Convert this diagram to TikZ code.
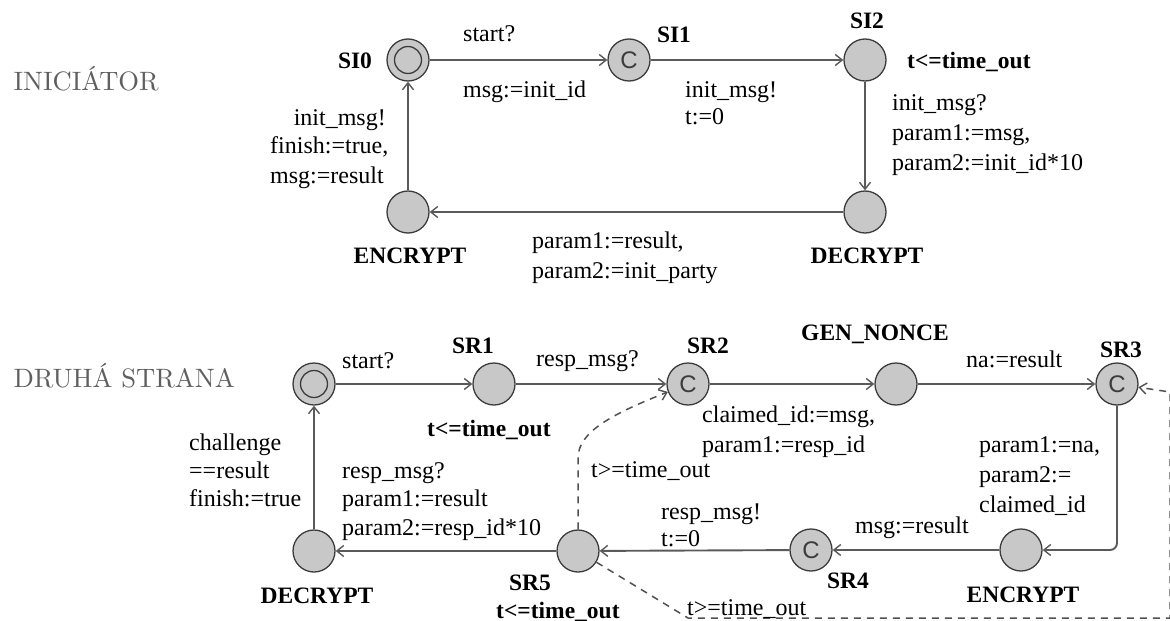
\documentclass[tikz,border=0pt]{standalone}
\usepackage{fontspec}
\newfontfamily\tf{Liberation Serif}
\newfontfamily\cf{Liberation Sans}
\usetikzlibrary{arrows.meta}
\definecolor{nodefill}{RGB}{200,200,200}
\definecolor{nodeline}{RGB}{60,60,60}
\definecolor{edgecol}{RGB}{90,90,90}
\definecolor{headgray}{RGB}{95,95,95}
\tikzset{
  loc/.style={circle, draw=nodeline, fill=nodefill, line width=1.3pt,
    minimum size=42pt, inner sep=0pt},
  initloc/.style={loc, path picture={\draw[nodeline, line width=1.3pt]
    (path picture bounding box.center) circle (13.5pt);}},
  comm/.style={loc, font=\cf\fontsize{24}{24}\selectfont, text=nodeline},
  edge/.style={draw=edgecol, line width=1.9pt,
    -{Straight Barb[length=7pt, width=11pt, line width=1.4pt]}},
  tout/.style={edge, draw=edgecol!90!black, line width=1.5pt, dash pattern=on 7pt off 6pt},
  lname/.style={font=\tf\bfseries\fontsize{23.5}{28}\selectfont, inner sep=0pt},
  txt/.style={font=\tf\fontsize{24}{29}\selectfont, inner sep=0pt},
  txtml/.style={txt, align=left, anchor=north west},
  head/.style={font=\fontsize{10}{12}\selectfont, scale=2.66, transform shape,
    text=headgray, inner sep=0pt, anchor=base west},
}
\begin{document}
\begin{tikzpicture}[x=1pt, y=-1pt]
\useasboundingbox (0,0) rectangle (1170,621);

% ---------------- initiator automaton ----------------
\node[head] (hI) at (13,90) {INICIÁTOR};

\node[initloc] (iS0) at (408,60) {};
\node[comm]    (iS1) at (629,60) {C};
\node[loc]     (iS2) at (865,60) {};
\node[loc]     (iDec) at (865,212) {};
\node[loc]     (iEnc) at (408,212) {};

\node[lname, anchor=base] (nS0) at (355,68) {SI0};
\node[lname, anchor=base] (nS1) at (674,42) {SI1};
\node[lname, anchor=base] (nS2) at (867,28) {SI2};
\node[lname, anchor=base west] (invS2) at (907,68) {t<=time\_out};
\node[lname, anchor=base] (nDec) at (867,263) {DECRYPT};
\node[lname, anchor=base] (nEnc) at (410,263) {ENCRYPT};

\draw[edge] (iS0) -- (iS1);
\draw[edge] (iS1) -- (iS2);
\draw[edge] (iS2) -- (iDec);
\draw[edge] (iDec) -- (iEnc);
\draw[edge] (iEnc) -- (iS0);

\node[txt, anchor=base west] (e1a) at (463,41) {start?};
\node[txt, anchor=base west] (e1b) at (463,97) {msg:=init\_id};
\node[txtml, font=\tf\fontsize{24}{27}\selectfont] (e2) at (685,81) {init\_msg!\\t:=0};
\node[txtml, font=\tf\fontsize{24}{30}\selectfont] (e3) at (892,94) {init\_msg?\\param1:=msg,\\param2:=init\_id*10};
\node[txtml, font=\tf\fontsize{24}{30}\selectfont] (e4) at (532,232) {param1:=result,\\param2:=init\_party};
\node[txt, anchor=base east] (e5a) at (386,125) {init\_msg!};
\node[txtml, font=\tf\fontsize{24}{30}\selectfont] (e5b) at (270,136) {finish:=true,\\msg:=result};

% ---------------- responder automaton ----------------
\node[head] (hR) at (13,387) {DRUHÁ STRANA};

\node[initloc] (r0)   at (314,384) {};
\node[loc]     (rS1)  at (494,384) {};
\node[comm]    (rS2)  at (688,384) {C};
\node[loc]     (rGen) at (896,384) {};
\node[comm]    (rS3)  at (1117,384) {C};
\node[loc]     (rEnc) at (1021,550) {};
\node[comm]    (rS4)  at (811,550) {C};
\node[loc]     (rS5)  at (578,551) {};
\node[loc]     (rDec) at (314,551) {};

\node[lname, anchor=base] (mS1) at (473,353) {SR1};
\node[lname, anchor=base west] (invS1) at (427,436) {t<=time\_out};
\node[lname, anchor=base] (mS2) at (708,353) {SR2};
\node[lname, anchor=base] (mGen) at (875,340) {GEN\_NONCE};
\node[lname, anchor=base] (mS3) at (1121,357) {SR3};
\node[lname, anchor=base] (mEnc) at (1023,602) {ENCRYPT};
\node[lname, anchor=base] (mS4) at (848,588) {SR4};
\node[lname, anchor=base] (mS5) at (530,590) {SR5};
\node[lname, anchor=base west] (invS5) at (496,618) {t<=time\_out};
\node[lname, anchor=base] (mDec) at (317,603) {DECRYPT};

\draw[edge] (r0) -- (rS1);
\draw[edge] (rS1) -- (rS2);
\draw[edge] (rS2) -- (rGen);
\draw[edge] (rGen) -- (rS3);
\draw[edge, rounded corners=7pt] (rS3) |- (rEnc);
\draw[edge] (rEnc) -- (rS4);
\draw[edge] (rS4) -- (rS5);
\draw[edge] (rS5) -- (rDec);
\draw[edge] (rDec) -- (r0);

% timeout transitions
\coordinate (up) at (578,458);
\draw[tout] (rS5) -- (up) .. controls (578,432) and (612,414) .. (rS2);
\coordinate (lowL) at (688,618);
\coordinate (lowR) at (1170,618);
\coordinate (topR) at (1170,392);
\draw[tout] (rS5) -- (lowL) -- (lowR) -- (topR) -- (rS3);

\node[txt, anchor=base west] (f1) at (342,368) {start?};
\node[txt, anchor=base west] (f2) at (536,366) {resp\_msg?};
\node[txtml, font=\tf\fontsize{24}{30}\selectfont] (f3) at (702,406) {claimed\_id:=msg,\\param1:=resp\_id};
\node[txt, anchor=base west] (f4) at (966,367) {na:=result};
\node[txtml, font=\tf\fontsize{24}{30}\selectfont] (f5) at (979,436) {param1:=na,\\param2:=\\claimed\_id};
\node[txt, anchor=base west] (f6) at (855,533) {msg:=result};
\node[txtml, font=\tf\fontsize{24}{27}\selectfont] (f7) at (661,504) {resp\_msg!\\t:=0};
\node[txtml, font=\tf\fontsize{24}{28.5}\selectfont] (f8) at (342,462) {resp\_msg?\\param1:=result\\param2:=resp\_id*10};
\node[txtml, font=\tf\fontsize{24}{28}\selectfont] (f9) at (189,434) {challenge\\==result\\finish:=true};
\node[txt, anchor=base west] (g1) at (591,477) {t>=time\_out};
\node[txt, anchor=base west] (g2) at (687,615) {t>=time\_out};
\end{tikzpicture}
\end{document}
